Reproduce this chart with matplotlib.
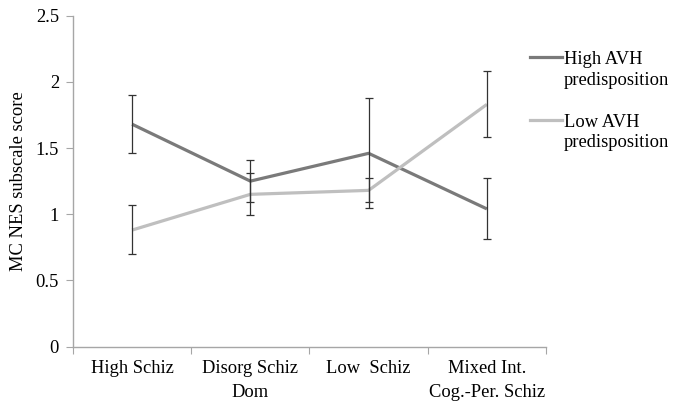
import matplotlib.pyplot as plt
import numpy as np
from matplotlib.lines import Line2D

plt.rcParams['font.family'] = ['Liberation Serif', 'DejaVu Serif']

categories = ['High Schiz', 'Disorg Schiz\nDom', 'Low  Schiz', 'Mixed Int.\nCog.-Per. Schiz']
high_avh = [1.68, 1.25, 1.46, 1.04]
high_lo = [1.465, 1.095, 1.05, 0.815]
high_hi = [1.90, 1.41, 1.88, 1.27]
low_avh = [0.88, 1.15, 1.18, 1.83]
low_lo = [0.70, 0.995, 1.095, 1.585]
low_hi = [1.07, 1.31, 1.27, 2.08]
yticks = [0, 0.5, 1, 1.5, 2, 2.5]
ytick_labels = ['0', '0.5', '1', '1.5', '2', '2.5']

high_col = '#7a7a7a'
low_col = '#bfbfbf'
err_col = '#333333'
spine_col = '#a6a6a6'
fs = 13.3

fig = plt.figure(figsize=(6.82, 4.01), dpi=100)
ax = fig.add_axes([0.107, 0.1359, 0.6936, 0.8249])

x = np.arange(len(categories))
h = np.array(high_avh)
l = np.array(low_avh)
ax.plot(x, h, color=high_col, lw=2.3, solid_capstyle='butt', zorder=2)
ax.plot(x, l, color=low_col, lw=2.3, solid_capstyle='butt', zorder=2)
ax.errorbar(x, h, yerr=[h - np.array(high_lo), np.array(high_hi) - h], fmt='none',
            ecolor=err_col, elinewidth=0.9, capsize=3, capthick=0.9, zorder=3)
ax.errorbar(x, l, yerr=[l - np.array(low_lo), np.array(low_hi) - l], fmt='none',
            ecolor=err_col, elinewidth=0.9, capsize=3, capthick=0.9, zorder=3)

ax.set_xlim(-0.5, len(categories) - 0.5)
ax.set_ylim(0, 2.5)
ax.set_yticks(yticks)
ax.set_yticklabels(ytick_labels)
ax.set_xticks(np.arange(-0.5, len(categories)), minor=False)
ax.set_xticklabels([])
ax.set_xticks(x, minor=True)
ax.set_xticklabels(categories, minor=True)
ax.tick_params(axis='x', which='minor', length=0, pad=10, labelsize=fs)
ax.tick_params(axis='x', which='major', length=5, color=spine_col, direction='out')
ax.tick_params(axis='y', length=5, color=spine_col, labelsize=fs, pad=5)
for lab in ax.get_xticklabels(minor=True):
    lab.set_verticalalignment('top')
    lab.set_linespacing(1.48)

for s in ['top', 'right']:
    ax.spines[s].set_visible(False)
for s in ['left', 'bottom']:
    ax.spines[s].set_color(spine_col)
    ax.spines[s].set_linewidth(1.0)

ax.set_ylabel('MC NES subscale score', fontsize=fs, labelpad=6)

# legend drawn by hand, Excel style
W, H = 682, 401
for ypx, col, txt in [(57, high_col, 'High AVH\npredisposition'), (119.5, low_col, 'Low AVH\npredisposition')]:
    fig.add_artist(Line2D([530 / W, 562 / W], [1 - ypx / H, 1 - ypx / H], color=col, lw=2.3))
    fig.text(563.5 / W, 1 - (ypx - 6) / H, txt, fontsize=fs, va='top', ha='left', linespacing=1.3)

fig.savefig('out.png', dpi=100)
